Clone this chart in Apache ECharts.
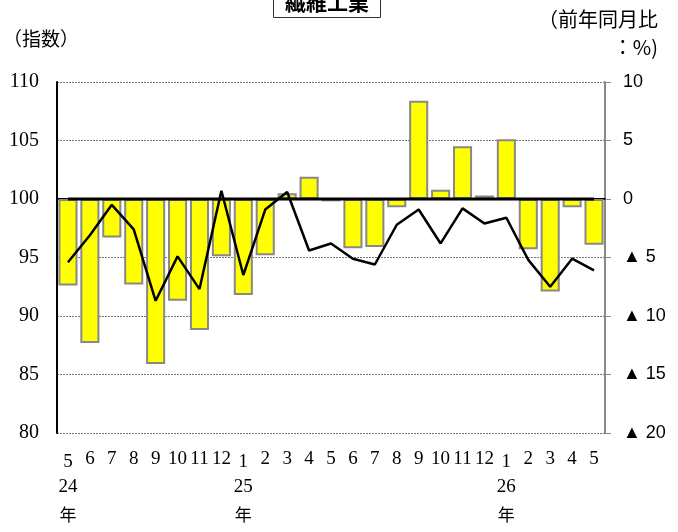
<!DOCTYPE html>
<html><head><meta charset="utf-8">
<script src="https://cdn.jsdelivr.net/npm/echarts@6/dist/echarts.min.js"></script>
<style>html,body{margin:0;padding:0;background:#fff}#c{width:678px;height:532px}</style>
</head><body><div id="c"></div>
<script>
const months = ['5','6','7','8','9','10','11','12','1','2','3','4','5','6','7','8','9','10','11','12','1','2','3','4','5'];
const yearMarks = ['24','','','','','','','','25','','','','','','','','','','','','26','','','',''];
const yoyPct = [-7.4,-12.3,-3.3,-7.3,-14.1,-8.7,-11.2,-4.9,-8.2,-4.8,0.5,1.9,-0.2,-4.2,-4.1,-0.7,8.4,0.8,4.5,0.3,5.1,-4.3,-7.9,-0.7,-3.9];
const indexVals = [94.6,96.9,99.5,97.4,91.3,95.1,92.3,100.7,93.5,99.1,100.6,95.6,96.2,94.9,94.4,97.8,99.1,96.2,99.2,97.9,98.4,94.8,92.5,94.9,93.9];
const baseLine = [0,0,0,0,0,0,0,0,0,0,0,0,0,0,0,0,0,0,0,0,0,0,0,0,0];
const leftTicks = [80,85,90,95,100,105,110];
const rightTicks = [-20,-15,-10,-5,0,5,10];

const serif = '"Liberation Serif", "DejaVu Serif", serif';
const sans = '"Liberation Sans", Arial, sans-serif';
const cjk = '"Noto Sans CJK JP", sans-serif';

const chart = echarts.init(document.getElementById('c'));
chart.setOption({
  animation: false,
  backgroundColor: '#fff',
  title: {
    text: '繊維工業',
    left: 273,
    top: -12,
    padding: [3, 12, 4, 12],
    borderWidth: 1,
    borderColor: '#333',
    textStyle: { fontFamily: cjk, fontSize: 21, lineHeight: 23, fontWeight: 'bold', color: '#000' }
  },
  graphic: [
    { type: 'text', left: 3, top: 29, style: { text: '（指数）', font: '19px ' + cjk, fill: '#000' } },
    { type: 'text', right: 20, top: 9, style: { text: '（前年同月比', font: '20px ' + cjk, fill: '#000' } },
    { type: 'text', right: 20, top: 37, style: { text: '：%)', font: '20px ' + cjk, fill: '#000' } }
  ],
  grid: { left: 57, right: 73, top: 82, bottom: 99, containLabel: false },
  xAxis: {
    type: 'category',
    data: months,
    boundaryGap: true,
    axisLine: { show: true, lineStyle: { color: '#000', width: 2 } },
    axisTick: { show: false },
    axisLabel: {
      interval: 0,
      margin: 16,
      color: '#000',
      formatter: function (val, idx) {
        return yearMarks[idx] ? '{b|' + val + '}\n{c|' + yearMarks[idx] + '}\n{d|年}' : '{a|' + val + '}';
      },
      rich: {
        a: { fontFamily: serif, fontSize: 19, lineHeight: 20, color: '#000' },
        b: { fontFamily: serif, fontSize: 19, lineHeight: 27, color: '#000' },
        c: { fontFamily: serif, fontSize: 19, lineHeight: 22, color: '#000' },
        d: { fontFamily: cjk, fontSize: 17, lineHeight: 34, color: '#000' }
      }
    }
  },
  yAxis: [
    {
      type: 'value', min: leftTicks[0], max: leftTicks[leftTicks.length - 1], interval: 5,
      position: 'left',
      axisLine: { show: true, lineStyle: { color: '#000', width: 2 } },
      axisTick: { show: false },
      axisLabel: { margin: 18, color: '#000', fontFamily: serif, fontSize: 20 },
      splitLine: { show: true, lineStyle: { color: '#777', width: 1, type: [2, 1] } }
    },
    {
      type: 'value', min: rightTicks[0], max: rightTicks[rightTicks.length - 1], interval: 5,
      position: 'right',
      axisLine: { show: true, lineStyle: { color: '#888', width: 2 } },
      axisTick: { show: true, inside: false, length: 6, lineStyle: { color: '#888', width: 1 } },
      axisLabel: {
        margin: 18, color: '#000', fontFamily: sans, fontSize: 18,
        formatter: function (v) { return v < 0 ? '▲ ' + Math.abs(v) : String(v); }
      },
      splitLine: { show: false }
    }
  ],
  series: [
    {
      type: 'bar', yAxisIndex: 1, data: yoyPct,
      barCategoryGap: '13%',
      itemStyle: { color: '#FFFF00', borderColor: '#888', borderWidth: 2 },
      z: 2
    },
    {
      type: 'line', yAxisIndex: 1, data: baseLine,
      symbol: 'none', lineStyle: { color: '#000', width: 3 }, z: 3
    },
    {
      type: 'line', yAxisIndex: 0, data: indexVals,
      symbol: 'none', lineStyle: { color: '#000', width: 2.5 }, z: 4
    }
  ]
});
</script></body></html>
